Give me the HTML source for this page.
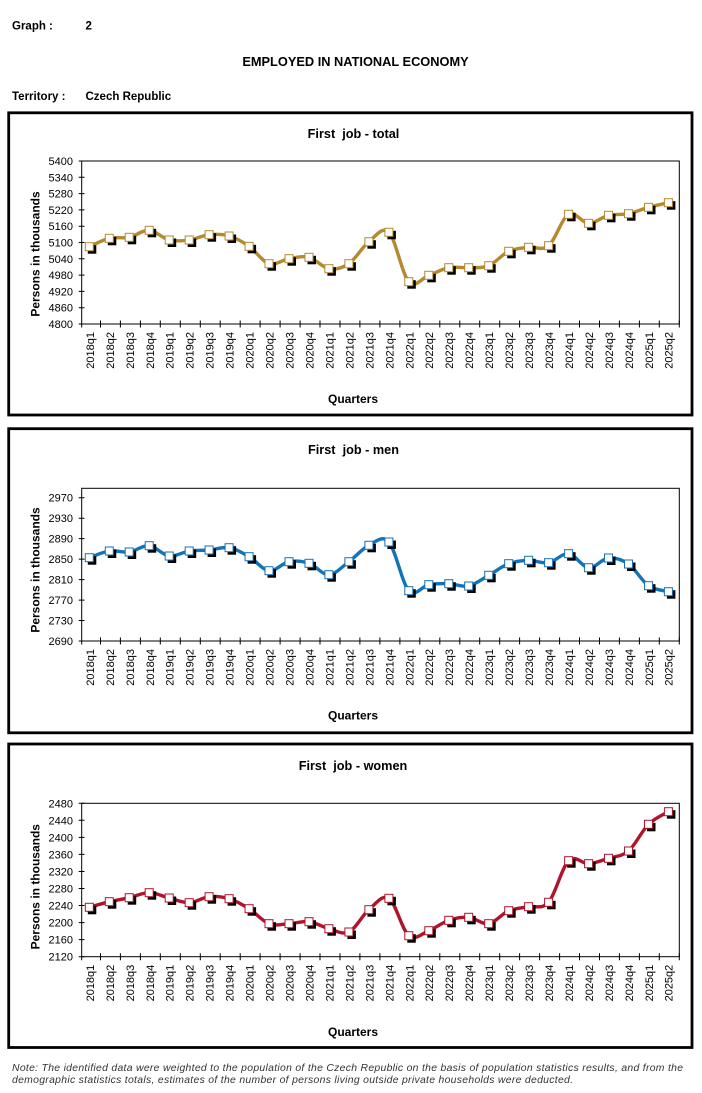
<!DOCTYPE html>
<html><head><meta charset="utf-8"><style>
html,body{margin:0;padding:0;background:#fff;}
svg{display:block;font-family:"Liberation Sans",Arial,sans-serif;}
.b{font-weight:bold;}
.yl{font-size:11px;text-anchor:end;fill:#000;}
.xl{font-size:11px;text-anchor:end;fill:#000;}
.tt{font-size:12.7px;font-weight:bold;text-anchor:middle;}
.ax{font-size:12px;font-weight:bold;text-anchor:middle;}
</style></head><body>
<svg id="s" width="702" height="1093" viewBox="0 0 702 1093" xmlns="http://www.w3.org/2000/svg">
<defs>
<marker id="mg" markerUnits="userSpaceOnUse" refX="0" refY="0" markerWidth="20" markerHeight="20" overflow="visible"><rect x="-1.5" y="-1.5" width="8.5" height="8.5" fill="#000"/><rect x="-4" y="-4" width="8" height="8" fill="#fff" stroke="#b5892f" stroke-width="1"/></marker>
<marker id="mb" markerUnits="userSpaceOnUse" refX="0" refY="0" markerWidth="20" markerHeight="20" overflow="visible"><rect x="-1.5" y="-1.5" width="8.5" height="8.5" fill="#000"/><rect x="-4" y="-4" width="8" height="8" fill="#fff" stroke="#1472b6" stroke-width="1"/></marker>
<marker id="mr" markerUnits="userSpaceOnUse" refX="0" refY="0" markerWidth="20" markerHeight="20" overflow="visible"><rect x="-1.5" y="-1.5" width="8.5" height="8.5" fill="#000"/><rect x="-4" y="-4" width="8" height="8" fill="#fff" stroke="#b0142c" stroke-width="1"/></marker>
</defs>
<rect width="702" height="1093" fill="#fff"/>

<!-- header -->
<text x="12" y="29.5" class="b" font-size="11.5">Graph :</text>
<text x="85.5" y="29.5" class="b" font-size="11.5">2</text>
<text x="355.5" y="65.8" class="b" font-size="12.8" text-anchor="middle">EMPLOYED IN NATIONAL ECONOMY</text>
<text x="12" y="100" class="b" font-size="11.5">Territory :</text>
<text x="85.5" y="100" class="b" font-size="11.5">Czech Republic</text>

<!-- ============ CHART 1 ============ -->
<rect x="8.7" y="112.8" width="683.3" height="302.2" fill="none" stroke="#000" stroke-width="2.8"/>
<text x="353.5" y="138" class="tt" xml:space="preserve">First  job - total</text>
<rect x="81.7" y="161" width="597.6" height="163" fill="none" stroke="#000" stroke-width="1"/>
<path d="M78.7 161H84.5M78.7 177.3H84.5M78.7 193.6H84.5M78.7 209.9H84.5M78.7 226.2H84.5M78.7 242.5H84.5M78.7 258.8H84.5M78.7 275.1H84.5M78.7 291.4H84.5M78.7 307.7H84.5M78.7 324H84.5" stroke="#000" stroke-width="1"/>
<g class="yl">
<text x="73" y="165">5400</text><text x="73" y="181.3">5340</text><text x="73" y="197.6">5280</text><text x="73" y="213.9">5220</text><text x="73" y="230.2">5160</text><text x="73" y="246.5">5100</text><text x="73" y="262.8">5040</text><text x="73" y="279.1">4980</text><text x="73" y="295.4">4920</text><text x="73" y="311.7">4860</text><text x="73" y="328">4800</text>
</g>
<path d="M81.7 324V327.5M100.5 320.5V327.5M120.4 320.5V327.5M140.4 320.5V327.5M160.3 320.5V327.5M180.3 320.5V327.5M200.3 320.5V327.5M220.2 320.5V327.5M240.2 320.5V327.5M260.1 320.5V327.5M280.1 320.5V327.5M300.1 320.5V327.5M320 320.5V327.5M340 320.5V327.5M359.9 320.5V327.5M379.9 320.5V327.5M399.9 320.5V327.5M419.8 320.5V327.5M439.8 320.5V327.5M459.8 320.5V327.5M479.7 320.5V327.5M499.7 320.5V327.5M519.6 320.5V327.5M539.6 320.5V327.5M559.6 320.5V327.5M579.5 320.5V327.5M599.5 320.5V327.5M619.4 320.5V327.5M639.4 320.5V327.5M659.3 320.5V327.5M679.3 320.5V327.5" stroke="#000" stroke-width="1"/>
<g class="xl">
<text transform="translate(93.9,332) rotate(-90)">2018q1</text>
<text transform="translate(113.9,332) rotate(-90)">2018q2</text>
<text transform="translate(133.8,332) rotate(-90)">2018q3</text>
<text transform="translate(153.8,332) rotate(-90)">2018q4</text>
<text transform="translate(173.7,332) rotate(-90)">2019q1</text>
<text transform="translate(193.7,332) rotate(-90)">2019q2</text>
<text transform="translate(213.7,332) rotate(-90)">2019q3</text>
<text transform="translate(233.6,332) rotate(-90)">2019q4</text>
<text transform="translate(253.6,332) rotate(-90)">2020q1</text>
<text transform="translate(273.5,332) rotate(-90)">2020q2</text>
<text transform="translate(293.5,332) rotate(-90)">2020q3</text>
<text transform="translate(313.5,332) rotate(-90)">2020q4</text>
<text transform="translate(333.4,332) rotate(-90)">2021q1</text>
<text transform="translate(353.4,332) rotate(-90)">2021q2</text>
<text transform="translate(373.3,332) rotate(-90)">2021q3</text>
<text transform="translate(393.3,332) rotate(-90)">2021q4</text>
<text transform="translate(413.3,332) rotate(-90)">2022q1</text>
<text transform="translate(433.2,332) rotate(-90)">2022q2</text>
<text transform="translate(453.2,332) rotate(-90)">2022q3</text>
<text transform="translate(473.1,332) rotate(-90)">2022q4</text>
<text transform="translate(493.1,332) rotate(-90)">2023q1</text>
<text transform="translate(513.1,332) rotate(-90)">2023q2</text>
<text transform="translate(533,332) rotate(-90)">2023q3</text>
<text transform="translate(553,332) rotate(-90)">2023q4</text>
<text transform="translate(572.9,332) rotate(-90)">2024q1</text>
<text transform="translate(592.9,332) rotate(-90)">2024q2</text>
<text transform="translate(612.9,332) rotate(-90)">2024q3</text>
<text transform="translate(632.8,332) rotate(-90)">2024q4</text>
<text transform="translate(652.8,332) rotate(-90)">2025q1</text>
<text transform="translate(672.7,332) rotate(-90)">2025q2</text>
</g>
<text class="ax" transform="translate(39.5,254) rotate(-90)">Persons in thousands</text>
<text class="ax" x="353" y="402.8">Quarters</text>
<polyline class="ser" fill="none" stroke="#b5892f" stroke-width="3.4" stroke-linejoin="round" stroke-linecap="round" marker-start="url(#mg)" marker-mid="url(#mg)" marker-end="url(#mg)" points="89.3,246.7 109.3,238.3 129.2,237.3 149.2,230.3 169.2,240 189.2,240 209.1,234.7 229.1,236 249.1,246.3 269,263.7 289,258.7 309,257.3 328.9,268.7 348.9,263.7 368.9,241.7 388.9,232.3 408.8,281.7 428.8,275.3 448.8,267.7 468.7,267.7 488.7,265.7 508.7,251.3 528.6,247.3 548.6,245.7 568.6,214.3 588.6,223.3 608.5,215.3 628.5,213.7 648.5,207.3 668.4,202.7"/>

<!-- ============ CHART 2 ============ -->
<rect x="8.7" y="428.7" width="683.3" height="304.1" fill="none" stroke="#000" stroke-width="2.8"/>
<text x="353.5" y="453.9" class="tt" xml:space="preserve">First  job - men</text>
<rect x="81.7" y="488.3" width="597.6" height="152.7" fill="none" stroke="#000" stroke-width="1"/>
<path d="M78.7 497.7H84.5M78.7 518.2H84.5M78.7 538.6H84.5M78.7 559.1H84.5M78.7 579.6H84.5M78.7 600.1H84.5M78.7 620.5H84.5M78.7 641H84.5" stroke="#000" stroke-width="1"/>
<g class="yl">
<text x="73" y="501.7">2970</text><text x="73" y="522.2">2930</text><text x="73" y="542.6">2890</text><text x="73" y="563.1">2850</text><text x="73" y="583.6">2810</text><text x="73" y="604.1">2770</text><text x="73" y="624.5">2730</text><text x="73" y="645">2690</text>
</g>
<path d="M81.7 641V644.5M100.5 637.5V644.5M120.4 637.5V644.5M140.4 637.5V644.5M160.3 637.5V644.5M180.3 637.5V644.5M200.3 637.5V644.5M220.2 637.5V644.5M240.2 637.5V644.5M260.1 637.5V644.5M280.1 637.5V644.5M300.1 637.5V644.5M320 637.5V644.5M340 637.5V644.5M359.9 637.5V644.5M379.9 637.5V644.5M399.9 637.5V644.5M419.8 637.5V644.5M439.8 637.5V644.5M459.8 637.5V644.5M479.7 637.5V644.5M499.7 637.5V644.5M519.6 637.5V644.5M539.6 637.5V644.5M559.6 637.5V644.5M579.5 637.5V644.5M599.5 637.5V644.5M619.4 637.5V644.5M639.4 637.5V644.5M659.3 637.5V644.5M679.3 637.5V644.5" stroke="#000" stroke-width="1"/>
<g class="xl">
<text transform="translate(93.9,649) rotate(-90)">2018q1</text>
<text transform="translate(113.9,649) rotate(-90)">2018q2</text>
<text transform="translate(133.8,649) rotate(-90)">2018q3</text>
<text transform="translate(153.8,649) rotate(-90)">2018q4</text>
<text transform="translate(173.7,649) rotate(-90)">2019q1</text>
<text transform="translate(193.7,649) rotate(-90)">2019q2</text>
<text transform="translate(213.7,649) rotate(-90)">2019q3</text>
<text transform="translate(233.6,649) rotate(-90)">2019q4</text>
<text transform="translate(253.6,649) rotate(-90)">2020q1</text>
<text transform="translate(273.5,649) rotate(-90)">2020q2</text>
<text transform="translate(293.5,649) rotate(-90)">2020q3</text>
<text transform="translate(313.5,649) rotate(-90)">2020q4</text>
<text transform="translate(333.4,649) rotate(-90)">2021q1</text>
<text transform="translate(353.4,649) rotate(-90)">2021q2</text>
<text transform="translate(373.3,649) rotate(-90)">2021q3</text>
<text transform="translate(393.3,649) rotate(-90)">2021q4</text>
<text transform="translate(413.3,649) rotate(-90)">2022q1</text>
<text transform="translate(433.2,649) rotate(-90)">2022q2</text>
<text transform="translate(453.2,649) rotate(-90)">2022q3</text>
<text transform="translate(473.1,649) rotate(-90)">2022q4</text>
<text transform="translate(493.1,649) rotate(-90)">2023q1</text>
<text transform="translate(513.1,649) rotate(-90)">2023q2</text>
<text transform="translate(533,649) rotate(-90)">2023q3</text>
<text transform="translate(553,649) rotate(-90)">2023q4</text>
<text transform="translate(572.9,649) rotate(-90)">2024q1</text>
<text transform="translate(592.9,649) rotate(-90)">2024q2</text>
<text transform="translate(612.9,649) rotate(-90)">2024q3</text>
<text transform="translate(632.8,649) rotate(-90)">2024q4</text>
<text transform="translate(652.8,649) rotate(-90)">2025q1</text>
<text transform="translate(672.7,649) rotate(-90)">2025q2</text>
</g>
<text class="ax" transform="translate(39.5,570) rotate(-90)">Persons in thousands</text>
<text class="ax" x="353" y="719.5">Quarters</text>
<polyline class="ser" fill="none" stroke="#1472b6" stroke-width="3.4" stroke-linejoin="round" stroke-linecap="round" marker-start="url(#mb)" marker-mid="url(#mb)" marker-end="url(#mb)" points="89.3,557.7 109.3,551 129.2,552 149.2,545.7 169.2,556 189.2,551 209.1,550 229.1,547.7 249.1,556.7 269,570.7 289,561.7 309,563.3 328.9,574.7 348.9,561.7 368.9,545.3 388.9,542 408.8,590.7 428.8,584.7 448.8,583.7 468.7,586 488.7,575.3 508.7,563.7 528.6,560.3 548.6,562.7 568.6,553.7 588.6,567.7 608.5,558 628.5,564 648.5,585.7 668.4,591.7"/>

<!-- ============ CHART 3 ============ -->
<rect x="8.7" y="744" width="683.3" height="303.5" fill="none" stroke="#000" stroke-width="2.8"/>
<text x="353" y="770" class="tt" xml:space="preserve">First  job - women</text>
<rect x="81.7" y="803.3" width="597.6" height="153.4" fill="none" stroke="#000" stroke-width="1"/>
<path d="M78.7 803.3H84.5M78.7 820.3H84.5M78.7 837.4H84.5M78.7 854.4H84.5M78.7 871.5H84.5M78.7 888.5H84.5M78.7 905.5H84.5M78.7 922.6H84.5M78.7 939.6H84.5M78.7 956.7H84.5" stroke="#000" stroke-width="1"/>
<g class="yl">
<text x="73" y="807.3">2480</text><text x="73" y="824.3">2440</text><text x="73" y="841.4">2400</text><text x="73" y="858.4">2360</text><text x="73" y="875.5">2320</text><text x="73" y="892.5">2280</text><text x="73" y="909.5">2240</text><text x="73" y="926.6">2200</text><text x="73" y="943.6">2160</text><text x="73" y="960.7">2120</text>
</g>
<path d="M81.7 956.7V960.2M100.5 953.2V960.2M120.4 953.2V960.2M140.4 953.2V960.2M160.3 953.2V960.2M180.3 953.2V960.2M200.3 953.2V960.2M220.2 953.2V960.2M240.2 953.2V960.2M260.1 953.2V960.2M280.1 953.2V960.2M300.1 953.2V960.2M320 953.2V960.2M340 953.2V960.2M359.9 953.2V960.2M379.9 953.2V960.2M399.9 953.2V960.2M419.8 953.2V960.2M439.8 953.2V960.2M459.8 953.2V960.2M479.7 953.2V960.2M499.7 953.2V960.2M519.6 953.2V960.2M539.6 953.2V960.2M559.6 953.2V960.2M579.5 953.2V960.2M599.5 953.2V960.2M619.4 953.2V960.2M639.4 953.2V960.2M659.3 953.2V960.2M679.3 953.2V960.2" stroke="#000" stroke-width="1"/>
<g class="xl">
<text transform="translate(93.9,964.7) rotate(-90)">2018q1</text>
<text transform="translate(113.9,964.7) rotate(-90)">2018q2</text>
<text transform="translate(133.8,964.7) rotate(-90)">2018q3</text>
<text transform="translate(153.8,964.7) rotate(-90)">2018q4</text>
<text transform="translate(173.7,964.7) rotate(-90)">2019q1</text>
<text transform="translate(193.7,964.7) rotate(-90)">2019q2</text>
<text transform="translate(213.7,964.7) rotate(-90)">2019q3</text>
<text transform="translate(233.6,964.7) rotate(-90)">2019q4</text>
<text transform="translate(253.6,964.7) rotate(-90)">2020q1</text>
<text transform="translate(273.5,964.7) rotate(-90)">2020q2</text>
<text transform="translate(293.5,964.7) rotate(-90)">2020q3</text>
<text transform="translate(313.5,964.7) rotate(-90)">2020q4</text>
<text transform="translate(333.4,964.7) rotate(-90)">2021q1</text>
<text transform="translate(353.4,964.7) rotate(-90)">2021q2</text>
<text transform="translate(373.3,964.7) rotate(-90)">2021q3</text>
<text transform="translate(393.3,964.7) rotate(-90)">2021q4</text>
<text transform="translate(413.3,964.7) rotate(-90)">2022q1</text>
<text transform="translate(433.2,964.7) rotate(-90)">2022q2</text>
<text transform="translate(453.2,964.7) rotate(-90)">2022q3</text>
<text transform="translate(473.1,964.7) rotate(-90)">2022q4</text>
<text transform="translate(493.1,964.7) rotate(-90)">2023q1</text>
<text transform="translate(513.1,964.7) rotate(-90)">2023q2</text>
<text transform="translate(533,964.7) rotate(-90)">2023q3</text>
<text transform="translate(553,964.7) rotate(-90)">2023q4</text>
<text transform="translate(572.9,964.7) rotate(-90)">2024q1</text>
<text transform="translate(592.9,964.7) rotate(-90)">2024q2</text>
<text transform="translate(612.9,964.7) rotate(-90)">2024q3</text>
<text transform="translate(632.8,964.7) rotate(-90)">2024q4</text>
<text transform="translate(652.8,964.7) rotate(-90)">2025q1</text>
<text transform="translate(672.7,964.7) rotate(-90)">2025q2</text>
</g>
<text class="ax" transform="translate(39.5,886.7) rotate(-90)">Persons in thousands</text>
<text class="ax" x="353" y="1035.8">Quarters</text>
<polyline class="ser" fill="none" stroke="#b0142c" stroke-width="3.4" stroke-linejoin="round" stroke-linecap="round" marker-start="url(#mr)" marker-mid="url(#mr)" marker-end="url(#mr)" points="89.3,907.3 109.3,901.7 129.2,897.7 149.2,892.7 169.2,898 189.2,902.7 209.1,896.7 229.1,898.7 249.1,908.7 269,923.7 289,923.7 309,921.7 328.9,928.7 348.9,932 368.9,909.7 388.9,898.3 408.8,935.7 428.8,930.7 448.8,920.3 468.7,917.3 488.7,923.7 508.7,910.7 528.6,906.7 548.6,902.3 568.6,860.7 588.6,863.7 608.5,858.3 628.5,851 648.5,824.3 668.4,811.7"/>

<!-- note -->
<text x="12" y="1070.8" font-size="10.4" font-style="italic" fill="#333" textLength="671">Note: The identified data were weighted to the population of the Czech Republic on the basis of population statistics results, and from the</text>
<text x="12" y="1082.8" font-size="10.4" font-style="italic" fill="#333" textLength="561">demographic statistics totals, estimates of the number of persons living outside private households were deducted.</text>
</svg>
<script>
(function(){
  var ns="http://www.w3.org/2000/svg";
  var pls=document.querySelectorAll("polyline.ser");
  for(var k=0;k<pls.length;k++){
    var pl=pls[k];
    var pts=pl.getAttribute("points").trim().split(/\s+/).map(function(s){var a=s.split(",");return [parseFloat(a[0]),parseFloat(a[1])];});
    var n=pts.length, d="M"+pts[0][0]+" "+pts[0][1];
    for(var i=0;i<n-1;i++){
      var p0=pts[i>0?i-1:i],p1=pts[i],p2=pts[i+1],p3=pts[i+2<n?i+2:i+1];
      var c1x=p1[0]+(p2[0]-p0[0])/6,c1y=p1[1]+(p2[1]-p0[1])/6;
      var c2x=p2[0]-(p3[0]-p1[0])/6,c2y=p2[1]-(p3[1]-p1[1])/6;
      d+=" C"+c1x.toFixed(2)+" "+c1y.toFixed(2)+" "+c2x.toFixed(2)+" "+c2y.toFixed(2)+" "+p2[0]+" "+p2[1];
    }
    var path=document.createElementNS(ns,"path");
    path.setAttribute("d",d);
    path.setAttribute("fill","none");
    path.setAttribute("stroke",pl.getAttribute("stroke"));
    path.setAttribute("stroke-width",pl.getAttribute("stroke-width"));
    path.setAttribute("stroke-linecap","round");
    path.setAttribute("stroke-linejoin","round");
    pl.parentNode.insertBefore(path,pl);
    pl.setAttribute("stroke","none");
  }
})();
</script>
</body></html>
